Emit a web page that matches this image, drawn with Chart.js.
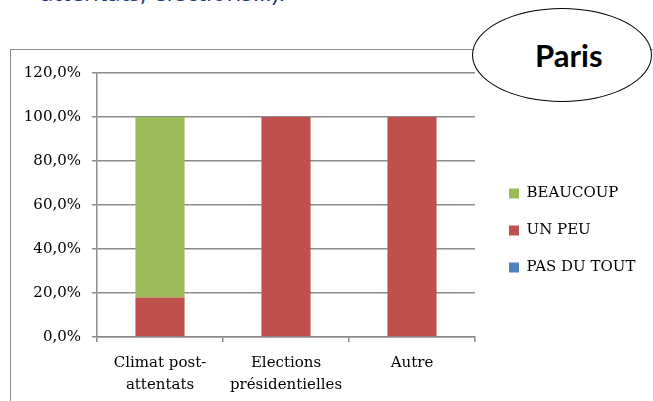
<!DOCTYPE html>
<html>
<head>
<meta charset="utf-8">
<script src="https://cdn.jsdelivr.net/npm/chart.js@4/dist/chart.umd.min.js"></script>
<style>
  body { margin: 0; background: #fff; }
  #wrap { position: relative; width: 653px; height: 401px; overflow: hidden; }
  #heading { position: absolute; left: 40px; top: -25px; font: 24px "Open Sans", sans-serif; color: #1f3b78; white-space: nowrap; }
  #frame { position: absolute; left: 10px; top: 49px; width: 800px; height: 500px; border: 1px solid #8c8c8c; }
  #myChart { position: absolute; left: 0; top: 0; }
  #badge { position: absolute; left: 472px; top: 8px; width: 180px; height: 94px; box-sizing: border-box;
           border: 1.5px solid #000; border-radius: 50%; background: #fff; }
  #badge span { position: absolute; left: 62px; top: 27px; font: bold 31px Lato, sans-serif; color: #000; }
</style>
</head>
<body>
<div id="wrap">
  <div id="heading">attentats, élections...).</div>
  <div id="frame"></div>
  <canvas id="myChart" width="653" height="401"></canvas>
  <div id="badge"><span>Paris</span></div>
</div>
<script>
const categories = [['Climat post-', 'attentats'], ['Elections', 'présidentielles'], ['Autre']];
const pasDuTout = [0, 0, 0];
const unPeu = [18, 100, 100];
const beaucoup = [82, 0, 0];
const yTicks = [0, 20, 40, 60, 80, 100, 120];

const serif = { family: '"DejaVu Serif", serif', size: 15 };

// put the legend where Excel had it, to the right of the plot
const placeLegend = {
    id: 'placeLegend',
    afterLayout(chart) {
        const l = chart.legend;
        l.left = 487;
        l.right = 653;
        l.top = 164;
        l.bottom = 401;
    }
};

document.addEventListener('DOMContentLoaded', function() {
    const ctx = document.getElementById('myChart').getContext('2d');

    new Chart(ctx, {
        type: 'bar',
        data: {
            labels: categories,
            datasets: [
                { label: 'PAS DU TOUT', data: pasDuTout, backgroundColor: '#4f81bd' },
                { label: 'UN PEU', data: unPeu, backgroundColor: '#c0504d' },
                { label: 'BEAUCOUP', data: beaucoup, backgroundColor: '#9bbb59' }
            ]
        },
        options: {
            responsive: false,
            devicePixelRatio: 1,
            animation: false,
            barPercentage: 0.39,
            categoryPercentage: 1,
            layout: { padding: { left: 10, top: 73, right: 178, bottom: 0 } },
            plugins: {
                tooltip: { enabled: false },
                legend: {
                    position: 'chartArea',
                    align: 'start',
                    reverse: true,
                    labels: {
                        boxWidth: 10,
                        boxHeight: 10,
                        padding: 22,
                        color: '#000',
                        font: serif
                    }
                }
            },
            scales: {
                x: {
                    stacked: true,
                    border: { color: '#8c8c8c', width: 1.5 },
                    grid: { offset: true, drawOnChartArea: false, tickLength: 5, color: '#8c8c8c', lineWidth: 1.5 },
                    ticks: { color: '#000', font: { ...serif, lineHeight: 1.47 }, padding: 10, maxRotation: 0, autoSkip: false },
                    afterFit: scale => { scale.height = 64; }
                },
                y: {
                    stacked: true,
                    min: 0,
                    max: 120,
                    border: { color: '#8c8c8c', width: 1.5 },
                    grid: { tickLength: 5, color: '#8c8c8c', lineWidth: 1.5 },
                    afterBuildTicks: scale => { scale.ticks = yTicks.map(v => ({ value: v })); },
                    ticks: {
                        color: '#000',
                        font: serif,
                        padding: 11,
                        callback: v => v.toFixed(1).replace('.', ',') + '%'
                    },
                    afterFit: scale => { scale.width = 87; }
                }
            }
        },
        plugins: [placeLegend]
    });
});
</script>
</body>
</html>
